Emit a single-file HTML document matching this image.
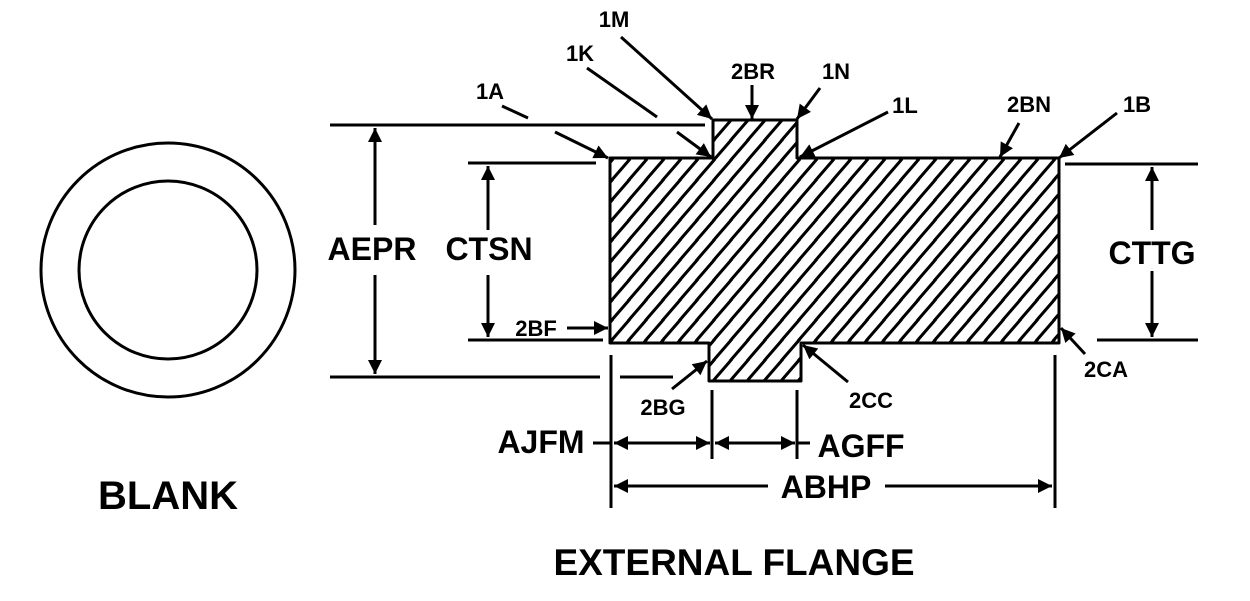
<!DOCTYPE html>
<html><head><meta charset="utf-8"><style>
html,body{margin:0;padding:0;background:#fff;}
svg{display:block;}
text{font-family:"Liberation Sans",Arial,sans-serif;font-weight:bold;fill:#000;}
</style></head><body>
<svg width="1250" height="601" viewBox="0 0 1250 601" xmlns="http://www.w3.org/2000/svg">
<defs>
<pattern id="h" patternUnits="userSpaceOnUse" width="17" height="20">
<path d="M-1,21 L18,-1 M-18,21 L1,-1 M16,41 L35,19 M16,21 L35,-1 M-1,1 L18,-21" stroke="#000" stroke-width="3"/>
</pattern>
<marker id="a" viewBox="0 0 10 10" refX="10" refY="5" markerWidth="30" markerHeight="14" markerUnits="userSpaceOnUse" orient="auto">
<path d="M0,0 L10,5 L0,10 z" fill="#000"/>
</marker>
</defs>
<circle cx="168" cy="270" r="127" fill="none" stroke="#000" stroke-width="3"/>
<circle cx="168" cy="270" r="89" fill="none" stroke="#000" stroke-width="3"/>
<text x="168" y="509" font-size="40" text-anchor="middle">BLANK</text>

<path d="M610,158 L713,158 L713,120 L797,120 L797,158 L1059,158 L1059,343 L801,343 L801,381 L709,381 L709,343 L610,343 Z" fill="url(#h)" stroke="#000" stroke-width="3" stroke-linejoin="round"/>

<g stroke="#000" stroke-width="3" fill="none">
<line x1="330" y1="125" x2="705" y2="125"/>
<line x1="330" y1="377" x2="600" y2="377"/>
<line x1="620" y1="377" x2="673" y2="377"/>
<line x1="375" y1="225" x2="375" y2="128" marker-end="url(#a)"/>
<line x1="375" y1="275" x2="375" y2="374" marker-end="url(#a)"/>
<line x1="468" y1="163" x2="596" y2="163"/>
<line x1="468" y1="340" x2="603" y2="340"/>
<line x1="488" y1="230" x2="488" y2="166" marker-end="url(#a)"/>
<line x1="488" y1="275" x2="488" y2="337" marker-end="url(#a)"/>
<line x1="1065" y1="164" x2="1198" y2="164"/>
<line x1="1097" y1="340" x2="1198" y2="340"/>
<line x1="1152" y1="230" x2="1152" y2="167" marker-end="url(#a)"/>
<line x1="1152" y1="271" x2="1152" y2="337" marker-end="url(#a)"/>
<line x1="611" y1="355" x2="611" y2="508"/>
<line x1="712" y1="390" x2="712" y2="459"/>
<line x1="797" y1="390" x2="797" y2="459"/>
<line x1="1055" y1="355" x2="1055" y2="508"/>
<line x1="593" y1="443" x2="611" y2="443"/>
<line x1="650" y1="443" x2="614" y2="443" marker-end="url(#a)"/>
<line x1="650" y1="443" x2="680" y2="443"/>
<line x1="680" y1="443" x2="710" y2="443" marker-end="url(#a)"/>
<line x1="750" y1="443" x2="715" y2="443" marker-end="url(#a)"/>
<line x1="750" y1="443" x2="765" y2="443"/>
<line x1="765" y1="443" x2="795" y2="443" marker-end="url(#a)"/>
<line x1="797" y1="443" x2="810" y2="443"/>
<line x1="650" y1="486" x2="614" y2="486" marker-end="url(#a)"/>
<line x1="650" y1="486" x2="768" y2="486"/>
<line x1="885" y1="486" x2="1020" y2="486"/>
<line x1="1020" y1="486" x2="1052" y2="486" marker-end="url(#a)"/>
<line x1="502" y1="106" x2="528" y2="118"/>
<line x1="555" y1="132" x2="608" y2="158" marker-end="url(#a)"/>
<line x1="587" y1="68" x2="657" y2="117"/>
<line x1="677" y1="132" x2="711" y2="157" marker-end="url(#a)"/>
<line x1="621" y1="37" x2="712" y2="119" marker-end="url(#a)"/>
<line x1="752" y1="85" x2="752" y2="119" marker-end="url(#a)"/>
<line x1="820" y1="88" x2="797" y2="119" marker-end="url(#a)"/>
<line x1="888" y1="112" x2="800" y2="157" marker-end="url(#a)"/>
<line x1="1019" y1="123" x2="1000" y2="157" marker-end="url(#a)"/>
<line x1="1117" y1="113" x2="1059" y2="158" marker-end="url(#a)"/>
<line x1="567" y1="328" x2="608" y2="328" marker-end="url(#a)"/>
<line x1="1085" y1="354" x2="1061" y2="328" marker-end="url(#a)"/>
<line x1="672" y1="389" x2="707" y2="361" marker-end="url(#a)"/>
<line x1="848" y1="382" x2="803" y2="345" marker-end="url(#a)"/>
</g>

<g font-size="32" text-anchor="middle">
<text x="372" y="260">AEPR</text>
<text x="489" y="260">CTSN</text>
<text x="1152" y="264">CTTG</text>
<text x="541" y="453">AJFM</text>
<text x="861" y="457">AGFF</text>
<text x="826" y="498">ABHP</text>
</g>
<text x="734" y="575" font-size="37" text-anchor="middle">EXTERNAL FLANGE</text>

<g font-size="22" text-anchor="middle">
<text x="490" y="99">1A</text>
<text x="580" y="61">1K</text>
<text x="614" y="27">1M</text>
<text x="753" y="79">2BR</text>
<text x="836" y="79">1N</text>
<text x="905" y="113">1L</text>
<text x="1029" y="112">2BN</text>
<text x="1137" y="112">1B</text>
<text x="536" y="336">2BF</text>
<text x="1106" y="377">2CA</text>
<text x="663" y="415">2BG</text>
<text x="871" y="408">2CC</text>
</g>
</svg>
</body></html>
